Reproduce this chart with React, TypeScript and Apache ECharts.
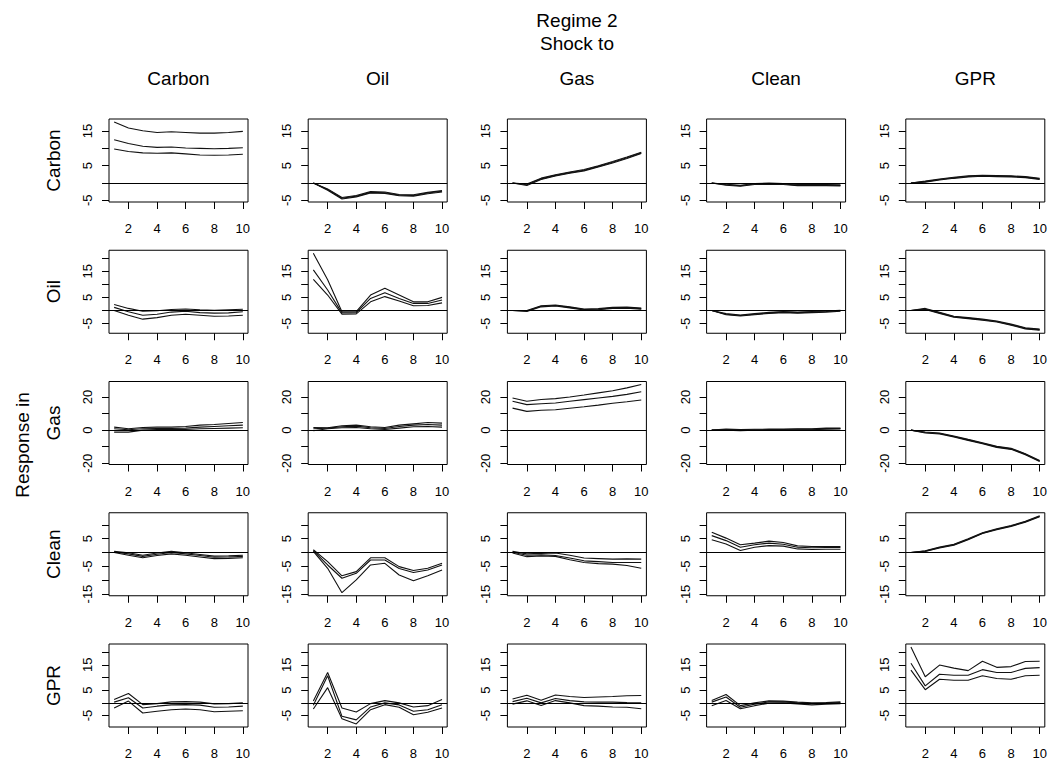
import React, { useEffect, useRef } from "react";
import * as echarts from "echarts";

// ---- data -------------------------------------------------------------
const STEPS = [1, 2, 3, 4, 5, 6, 7, 8, 9, 10];
const SHOCKS = ["Carbon", "Oil", "Gas", "Clean", "GPR"];
const RESPONSES = ["Carbon", "Oil", "Gas", "Clean", "GPR"];
const X_TICKS = [2, 4, 6, 8, 10];

// each panel: [lower, median, upper]
// Response in Carbon
const carbonFromCarbon = [
  [9.8, 9.1, 8.7, 8.6, 8.7, 8.4, 8.1, 8.0, 8.1, 8.3],
  [12.5, 11.4, 10.6, 10.3, 10.4, 10.1, 10.0, 9.9, 10.0, 10.2],
  [17.6, 15.9, 15.1, 14.6, 14.8, 14.6, 14.4, 14.4, 14.6, 14.9],
];
const carbonFromOil = [
  [0, -2.1, -4.6, -4.0, -2.9, -3.0, -3.7, -3.8, -3.1, -2.6],
  [0, -1.9, -4.4, -3.8, -2.7, -2.8, -3.5, -3.6, -2.9, -2.4],
  [0, -1.7, -4.2, -3.6, -2.5, -2.6, -3.3, -3.4, -2.7, -2.2],
];
const carbonFromGas = [
  [0, -0.7, 1.0, 2.0, 2.8, 3.5, 4.6, 5.8, 7.1, 8.5],
  [0, -0.5, 1.2, 2.2, 3.0, 3.7, 4.8, 6.0, 7.3, 8.7],
  [0, -0.3, 1.4, 2.4, 3.2, 3.9, 5.0, 6.2, 7.5, 8.9],
];
const carbonFromClean = [
  [0, -0.65, -0.95, -0.45, -0.35, -0.45, -0.75, -0.75, -0.75, -0.85],
  [0, -0.5, -0.8, -0.3, -0.2, -0.3, -0.6, -0.6, -0.6, -0.7],
  [0, -0.35, -0.65, -0.15, -0.05, -0.15, -0.45, -0.45, -0.45, -0.55],
];
const carbonFromGPR = [
  [0, 0.25, 0.85, 1.35, 1.75, 1.95, 1.85, 1.75, 1.55, 1.05],
  [0, 0.4, 1.0, 1.5, 1.9, 2.1, 2.0, 1.9, 1.7, 1.2],
  [0, 0.55, 1.15, 1.65, 2.05, 2.25, 2.15, 2.05, 1.85, 1.35],
];
// Response in Oil
const oilFromCarbon = [
  [0, -1.8, -3.3, -2.7, -1.8, -1.4, -1.8, -2.2, -2.1, -1.8],
  [1.2, -0.5, -1.8, -1.4, -0.6, -0.3, -0.8, -1.0, -0.9, -0.5],
  [2.3, 0.8, -0.3, -0.1, 0.4, 0.6, 0.3, 0.1, 0.3, 0.5],
];
const oilFromOil = [
  [11.9, 5.9, -1.4, -1.3, 3.3, 5.3, 3.6, 1.8, 1.9, 2.9],
  [15.5, 7.8, -0.9, -0.8, 4.6, 6.8, 4.6, 2.7, 2.7, 4.0],
  [21.8, 11.7, -0.5, -0.4, 5.9, 8.5, 5.9, 3.3, 3.3, 5.0],
];
const oilFromGas = [
  [0, -0.4, 1.4, 1.7, 1.0, 0.2, 0.3, 0.8, 0.9, 0.5],
  [0, -0.2, 1.6, 1.9, 1.2, 0.4, 0.5, 1.0, 1.1, 0.7],
  [0, 0.0, 1.8, 2.1, 1.4, 0.6, 0.7, 1.2, 1.3, 0.9],
];
const oilFromClean = [
  [0, -1.6, -2.1, -1.6, -1.1, -0.8, -1.0, -0.8, -0.6, -0.3],
  [0, -1.4, -1.9, -1.4, -0.9, -0.6, -0.8, -0.6, -0.4, -0.1],
  [0, -1.2, -1.7, -1.2, -0.7, -0.4, -0.6, -0.4, -0.2, 0.1],
];
const oilFromGPR = [
  [0, 0.4, -1.1, -2.6, -3.1, -3.7, -4.4, -5.6, -7.0, -7.5],
  [0, 0.6, -0.9, -2.4, -2.9, -3.5, -4.2, -5.4, -6.8, -7.3],
  [0, 0.8, -0.7, -2.2, -2.7, -3.3, -4.0, -5.2, -6.6, -7.1],
];
// Response in Gas
const gasFromCarbon = [
  [-1.2, -1.2, 0, 0.4, 0.4, 0.4, 0.8, 1.0, 1.2, 1.4],
  [0.8, 0.2, 0.8, 1.0, 1.0, 1.2, 1.8, 2.2, 2.6, 3.0],
  [1.8, 0.8, 1.6, 1.8, 1.8, 2.2, 3.0, 3.4, 4.0, 4.6],
];
const gasFromOil = [
  [-0.4, 0.8, 1.4, 1.6, 0.8, 0.4, 1.2, 2.0, 2.2, 1.8],
  [0.8, 1.2, 2.0, 2.4, 1.4, 1.0, 2.2, 3.0, 3.4, 3.0],
  [1.6, 1.4, 2.6, 3.0, 2.0, 1.6, 3.0, 3.8, 4.6, 4.2],
];
const gasFromGas = [
  [13.3, 11.3, 12.0, 12.3, 13.2, 14.1, 15.1, 16.2, 17.1, 18.2],
  [17.4, 15.4, 15.9, 16.4, 17.4, 18.4, 19.4, 20.4, 21.6, 23.2],
  [19.4, 17.4, 18.5, 19.0, 20.0, 21.2, 22.5, 23.8, 25.5, 27.5],
];
const gasFromClean = [
  [0, 0.0, -0.3, -0.1, 0.0, 0.1, 0.2, 0.2, 0.6, 0.7],
  [0, 0.3, 0.0, 0.2, 0.3, 0.4, 0.5, 0.5, 0.9, 1.0],
  [0, 0.6, 0.3, 0.5, 0.6, 0.7, 0.8, 0.8, 1.2, 1.3],
];
const gasFromGPR = [
  [0, -1.7, -2.3, -4.1, -6.2, -8.2, -10.4, -11.6, -14.8, -18.9],
  [0, -1.4, -2.0, -3.8, -5.9, -7.9, -10.1, -11.3, -14.5, -18.6],
  [0, -1.1, -1.7, -3.5, -5.6, -7.6, -9.8, -11.0, -14.2, -18.3],
];
// Response in Clean
const cleanFromCarbon = [
  [0.0, -1.0, -1.9, -1.1, -0.5, -1.0, -1.6, -2.2, -2.1, -1.9],
  [0.2, -0.5, -1.4, -0.6, 0.0, -0.5, -1.1, -1.7, -1.6, -1.4],
  [0.4, -0.1, -1.0, -0.2, 0.4, -0.1, -0.7, -1.3, -1.2, -1.0],
];
const cleanFromOil = [
  [0.4, -5.7, -14.5, -9.9, -4.5, -3.9, -8.1, -10.2, -8.4, -6.3],
  [0.7, -4.5, -9.3, -7.5, -2.7, -2.7, -5.8, -7.2, -6.3, -4.5],
  [1.0, -3.3, -8.4, -6.9, -1.9, -1.9, -5.1, -6.5, -5.7, -3.9],
];
const cleanFromGas = [
  [-0.2, -1.5, -1.2, -1.4, -2.6, -3.6, -4.0, -4.2, -4.7, -5.7],
  [0.1, -1.0, -0.8, -1.1, -2.0, -3.0, -3.3, -3.6, -3.6, -3.6],
  [0.4, -0.5, -0.3, -0.2, -1.0, -2.0, -2.2, -2.4, -2.3, -2.4],
];
const cleanFromClean = [
  [4.6, 3.1, 0.7, 1.9, 2.5, 2.3, 1.3, 1.1, 1.2, 1.2],
  [6.1, 4.3, 1.9, 2.8, 3.4, 3.0, 1.9, 1.7, 1.8, 1.8],
  [7.3, 5.2, 2.8, 3.4, 4.1, 3.6, 2.4, 2.2, 2.2, 2.2],
];
const cleanFromGPR = [
  [0, 0.35, 1.65, 2.65, 4.65, 6.85, 8.25, 9.45, 10.95, 12.95],
  [0, 0.5, 1.8, 2.8, 4.8, 7.0, 8.4, 9.6, 11.1, 13.1],
  [0, 0.65, 1.95, 2.95, 4.95, 7.15, 8.55, 9.75, 11.25, 13.25],
];
// Response in GPR
const gprFromCarbon = [
  [-2.0, 0.7, -4.0, -3.3, -2.7, -2.4, -2.7, -3.5, -3.3, -3.1],
  [0.3, 2.0, -2.0, -1.3, -0.8, -0.7, -0.9, -1.7, -1.6, -1.3],
  [1.3, 3.7, -0.7, -0.3, 0.4, 0.5, 0.3, -0.4, -0.3, 0.0],
];
const gprFromOil = [
  [-2.4, 6.0, -6.3, -8.3, -2.7, -0.7, -1.7, -4.7, -3.7, -2.0],
  [-0.9, 10.7, -5.3, -6.7, -1.6, 0.0, -0.8, -3.3, -2.7, -0.7],
  [0.7, 12.0, -2.0, -3.6, -0.3, 0.9, 0.0, -1.6, -1.1, 1.3],
];
const gprFromGas = [
  [-0.5, 0.8, -1.0, 0.9, 0.0, -1.1, -1.3, -1.6, -1.7, -2.3],
  [0.5, 1.8, 0.0, 1.7, 0.9, 0.4, 0.3, 0.3, 0.1, 0.0],
  [1.5, 3.0, 1.0, 3.1, 2.5, 2.1, 2.3, 2.5, 2.8, 2.9],
];
const gprFromClean = [
  [-1.1, 0.9, -2.3, -1.1, -0.1, 0.0, -0.4, -0.8, -0.5, -0.3],
  [0.3, 2.3, -1.7, -0.5, 0.4, 0.4, 0.0, -0.3, -0.1, 0.1],
  [0.9, 3.3, -1.1, 0.0, 0.8, 0.7, 0.3, 0.0, 0.1, 0.4],
];
const gprFromGPR = [
  [12.9, 5.2, 9.3, 8.9, 8.9, 10.7, 9.6, 9.3, 10.7, 10.9],
  [15.6, 6.7, 11.3, 10.9, 10.9, 13.1, 12.0, 12.0, 13.6, 13.9],
  [22.0, 10.3, 14.9, 13.7, 12.7, 16.4, 14.0, 14.3, 16.3, 16.4],
];

const PANELS = [
  [carbonFromCarbon, carbonFromOil, carbonFromGas, carbonFromClean, carbonFromGPR],
  [oilFromCarbon, oilFromOil, oilFromGas, oilFromClean, oilFromGPR],
  [gasFromCarbon, gasFromOil, gasFromGas, gasFromClean, gasFromGPR],
  [cleanFromCarbon, cleanFromOil, cleanFromGas, cleanFromClean, cleanFromGPR],
  [gprFromCarbon, gprFromOil, gprFromGas, gprFromClean, gprFromGPR],
];

// y tick marks and labels per response row
const Y_TICKS = [
  [-5, 0, 5, 10, 15],
  [-5, 0, 5, 10, 15, 20],
  [-20, -10, 0, 10, 20],
  [-15, -10, -5, 0, 5, 10],
  [-5, 0, 5, 10, 15, 20],
];
const Y_LABELS = [
  [-5, 5, 15],
  [-5, 5, 15],
  [-20, 0, 20],
  [-15, -5, 5],
  [-5, 5, 15],
];

// ---- layout ----------------------------------------------------------
const FONT = "'Liberation Sans', Arial, Helvetica, sans-serif";
const GRID_LEFT0 = 109;
const GRID_DX = 199.2;
const GRID_TOP0 = 119;
const GRID_DY = 131.25;
const GRID_W = 139;
const GRID_H = 83;

function rowRange(row: number[][][]): [number, number] {
  let lo = Infinity;
  let hi = -Infinity;
  row.forEach((p) =>
    p.forEach((s) =>
      s.forEach((v) => {
        lo = Math.min(lo, v);
        hi = Math.max(hi, v);
      })
    )
  );
  const ext = (hi - lo) * 0.04;
  return [lo - ext, hi + ext];
}

function buildOption() {
  const grids: any[] = [];
  const xAxes: any[] = [];
  const yAxes: any[] = [];
  const series: any[] = [];
  const xExt = (STEPS[STEPS.length - 1] - STEPS[0]) * 0.04;

  PANELS.forEach((row, r) => {
    const [ymin, ymax] = rowRange(row);
    row.forEach((panel, c) => {
      const idx = grids.length;
      grids.push({
        left: GRID_LEFT0 + c * GRID_DX,
        top: GRID_TOP0 + r * GRID_DY,
        width: GRID_W,
        height: GRID_H,
        show: true,
        borderColor: "#000",
        borderWidth: 1,
        backgroundColor: "transparent",
        containLabel: false,
        outerBoundsMode: "none",
      });
      xAxes.push({
        gridIndex: idx,
        type: "value",
        min: STEPS[0] - xExt,
        max: STEPS[STEPS.length - 1] + xExt,
        axisLine: { show: false, onZero: false },
        splitLine: { show: false },
        axisTick: {
          show: true,
          customValues: X_TICKS,
          length: 7,
          lineStyle: { color: "#000", width: 1 },
        },
        axisLabel: {
          show: true,
          customValues: X_TICKS,
          margin: 20,
          color: "#000",
          fontSize: 13,
          fontFamily: FONT,
        },
      });
      yAxes.push({
        gridIndex: idx,
        type: "value",
        min: ymin,
        max: ymax,
        axisLine: { show: false, onZero: false },
        splitLine: { show: false },
        axisTick: {
          show: true,
          customValues: Y_TICKS[r],
          length: 7,
          lineStyle: { color: "#000", width: 1 },
        },
        axisLabel: {
          show: true,
          customValues: Y_LABELS[r],
          rotate: 90,
          margin: 15,
          color: "#000",
          fontSize: 13,
          fontFamily: FONT,
        },
      });
      panel.forEach((vals, k) => {
        const s: any = {
          type: "line",
          xAxisIndex: idx,
          yAxisIndex: idx,
          data: STEPS.map((x, i) => [x, vals[i]]),
          showSymbol: false,
          symbol: "none",
          silent: true,
          lineStyle: { color: "#111", width: 1.1 },
        };
        if (k === 0) {
          s.markLine = {
            silent: true,
            symbol: ["none", "none"],
            label: { show: false },
            lineStyle: { color: "#000", type: "solid", width: 1 },
            data: [{ yAxis: 0 }],
          };
        }
        series.push(s);
      });
    });
  });

  const graphic: any[] = [
    {
      type: "text",
      x: 577,
      y: 20,
      style: { text: "Regime 2", fontSize: 19, fontFamily: FONT, fill: "#000", textAlign: "center", textVerticalAlign: "middle" },
    },
    {
      type: "text",
      x: 577,
      y: 43,
      style: { text: "Shock to", fontSize: 19, fontFamily: FONT, fill: "#000", textAlign: "center", textVerticalAlign: "middle" },
    },
    {
      type: "text",
      x: 22,
      y: 445,
      rotation: Math.PI / 2,
      style: { text: "Response in", fontSize: 19, fontFamily: FONT, fill: "#000", textAlign: "center", textVerticalAlign: "middle" },
    },
  ];
  SHOCKS.forEach((name, c) => {
    graphic.push({
      type: "text",
      x: GRID_LEFT0 + c * GRID_DX + GRID_W / 2,
      y: 78,
      style: { text: name, fontSize: 19, fontFamily: FONT, fill: "#000", textAlign: "center", textVerticalAlign: "middle" },
    });
  });
  RESPONSES.forEach((name, r) => {
    graphic.push({
      type: "text",
      x: 53,
      y: GRID_TOP0 + r * GRID_DY + GRID_H / 2,
      rotation: Math.PI / 2,
      style: { text: name, fontSize: 19, fontFamily: FONT, fill: "#000", textAlign: "center", textVerticalAlign: "middle" },
    });
  });

  return {
    animation: false,
    backgroundColor: "#fff",
    grid: grids,
    xAxis: xAxes,
    yAxis: yAxes,
    series,
    graphic,
  };
}

export default function App() {
  const ref = useRef<HTMLDivElement>(null);
  useEffect(() => {
    if (!ref.current) return;
    const chart = echarts.init(ref.current, undefined, { renderer: "svg" });
    chart.setOption(buildOption() as any);
    return () => chart.dispose();
  }, []);
  return (
    <div
      ref={ref}
      style={{ position: "fixed", left: 0, top: 0, width: 1050, height: 762, background: "#fff" }}
    />
  );
}
